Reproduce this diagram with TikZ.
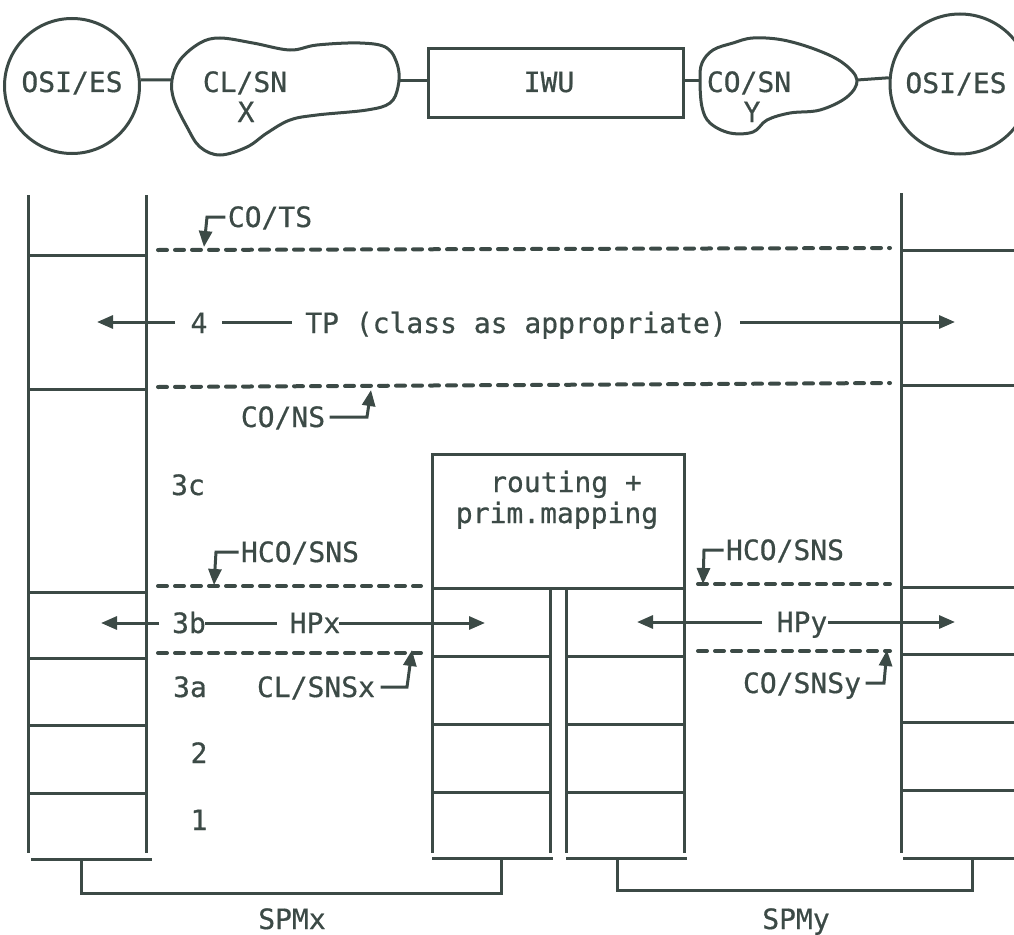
\documentclass[tikz,border=0pt]{standalone}
\usepackage{fontspec}
\setmainfont{DejaVu Sans Mono}[FakeBold=0.6]
\usetikzlibrary{arrows.meta}
\definecolor{ink}{RGB}{60,74,70}
\begin{document}
\begin{tikzpicture}[x=1pt,y=-1pt,line width=3pt,draw=ink,
  txt/.style={font=\fontsize{28}{28}\selectfont,text=ink,inner sep=0pt,anchor=base},
  wire/.style={draw=ink,line width=3pt},
  dsh/.style={draw=ink,line width=4pt,line cap=round,dash pattern=on 9pt off 8pt},
  arr/.style={draw=ink,line width=3pt,-{Triangle[length=16pt,width=13pt]}},
  es/.style={circle,draw=ink,line width=3pt,inner sep=0pt}]
\useasboundingbox (0,0) rectangle (1014,934);
\begin{scope}
\clip (0,0) rectangle (1014,934);
% ---------- top row ----------
\node[es,minimum size=135pt] (es1) at (72,86) {};
\node[txt] (es1t) at (72,92) {OSI/ES};
\node[es,minimum size=140pt] (es2) at (960,84) {};
\node[txt] (es2t) at (956,93) {OSI/ES};
\draw[wire] plot[smooth cycle,tension=0.6] coordinates {(172,80) (180,60) (200,43) (220,38) (253,43) (290,50) (317,45) (360,43) (387,48) (398,67) (398,87) (390,103) (367,110) (317,115) (290,120) (267,133) (247,147) (220,155) (200,147) (187,127) (174,100)};
\coordinate (clxW) at (172,80);
\coordinate (clxE) at (399,80);
\node[txt] (clxa) at (245,92) {CL/SN};
\node[txt] (clxb) at (246,122) {X};
\draw[wire] plot[smooth cycle,tension=0.6] coordinates {(700,80) (702,63) (713,50) (733,43) (753,38) (783,40) (817,50) (843,63) (857,80) (847,97) (820,110) (790,113) (767,120) (753,132) (730,133) (710,123) (702,107)};
\coordinate (coyW) at (700,80);
\coordinate (coyE) at (857,80);
\node[txt] (coya) at (749,92) {CO/SN};
\node[txt] (coyb) at (752,122) {Y};
\node[draw=ink,line width=3pt,minimum width=255pt,minimum height=68pt,inner sep=0pt] (iwu) at (555.5,83) {};
\node[txt] (iwut) at (549,92) {IWU};
\draw[wire] (es1.5) -- (clxW);
\draw[wire] (clxE) -- (iwu.west |- clxE);
\draw[wire] (iwu.east |- coyW) -- (coyW);
\draw[wire] (coyE) -- (es2.175);
% ---------- stacks ----------
\draw[wire] (28,195) -- (28,853) (146,195) -- (146,853);
\foreach \y in {255,389,592,658,725,793} \draw[wire] (28,\y) -- (146,\y);
\draw[wire] (31,859) -- (152,859);
\node[draw=ink,line width=3pt,minimum width=252pt,minimum height=134pt,inner sep=0pt] (rt) at (558,521) {};
\node[txt] (rt1) at (566,492) {routing +};
\node[txt] (rt2) at (557,523) {prim.mapping};
\draw[wire] (432,588) -- (432,853) (550,588) -- (550,853) (566,588) -- (566,853) (684,588) -- (684,853);
\foreach \y in {656,724,792} \draw[wire] (432,\y) -- (550,\y) (566,\y) -- (684,\y);
\draw[wire] (432,858) -- (553,858) (566,858) -- (687,858);
\draw[wire] (901,193) -- (901,853);
\foreach \y in {250,385,587,654,722,790} \draw[wire] (903,\y) -- (1014,\y);
\draw[wire] (903,858) -- (1014,858);
% ---------- SPM brackets ----------
\draw[wire] (81,860) -- (81,893) -- (501,893) -- (501,860);
\node[txt] (spmx) at (292,929) {SPMx};
\draw[wire] (617,858) -- (617,890) -- (972,890) -- (972,858);
\node[txt] (spmy) at (796,929) {SPMy};
% ---------- dashed service boundaries ----------
\draw[dsh] (158,250) -- (890,248);
\draw[dsh] (158,387) -- (890,383);
\draw[dsh] (158,586) -- (421,586);
\draw[dsh] (158,653) -- (421,653);
\draw[dsh] (698,584) -- (890,584);
\draw[dsh] (698,651) -- (890,651);
% ---------- pointer labels ----------
\node[txt] (cots) at (270,227) {CO/TS};
\draw[arr] ([xshift=-1pt,yshift=10pt]cots.base west) -- (207,217) -- (204,247);
\node[txt] (cons) at (283,427) {CO/NS};
\draw[arr] ([xshift=3pt,yshift=10pt]cons.base east) -- (367,417) -- (371,390);
\node[txt] (hco1) at (300,562) {HCO/SNS};
\draw[arr] ([xshift=-1pt,yshift=10pt]hco1.base west) -- (216,552) -- (214,585);
\node[txt] (clsx) at (316,697) {CL/SNSx};
\draw[arr] ([xshift=4pt,yshift=10pt]clsx.base east) -- (407,687) -- (412,650);
\node[txt] (hco2) at (785,560) {HCO/SNS};
\draw[arr] ([xshift=-1pt,yshift=10pt]hco2.base west) -- (704,550) -- (703,584);
\node[txt] (cosy) at (802,693) {CO/SNSy};
\draw[arr] ([xshift=3pt,yshift=10pt]cosy.base east) -- (884,683) -- (887,650);
% ---------- layer numbers and protocols ----------
\node[txt] (l4) at (199,333) {4};
\node[txt] (tp) at (516,333) {TP (class as appropriate)};
\coordinate (tpL) at (97,322);
\coordinate (tpR) at (955,322);
\draw[arr] (175,322) -- (tpL);
\draw[wire] (222,322) -- (292,322);
\draw[arr] (740,322) -- (tpR);
\node[txt] (l3c) at (188,495) {3c};
\node[txt] (l3b) at (189,633) {3b};
\node[txt] (hpx) at (315,633) {HPx};
\coordinate (hpxL) at (101,623);
\coordinate (hpxR) at (485,623);
\draw[arr] (159,623) -- (hpxL);
\draw[wire] (205,623) -- (277,623);
\draw[arr] (339,623) -- (hpxR);
\node[txt] (hpy) at (802,632) {HPy};
\coordinate (hpyL) at (637,622);
\coordinate (hpyR) at (955,622);
\draw[arr] (762,622) -- (hpyL);
\draw[arr] (828,622) -- (hpyR);
\node[txt] (l3a) at (190,697) {3a};
\node[txt] (l2) at (199,763) {2};
\node[txt] (l1) at (199,830) {1};
\end{scope}
\end{tikzpicture}
\end{document}
